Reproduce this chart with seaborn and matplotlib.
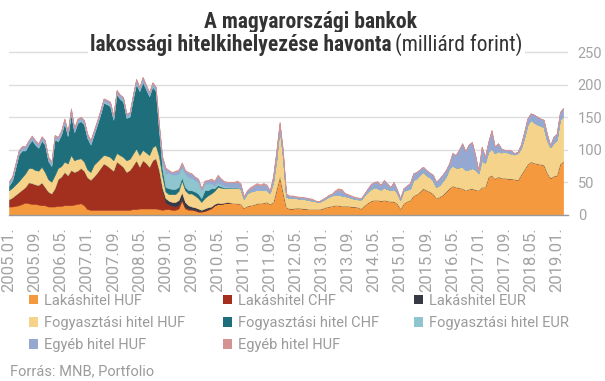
import matplotlib
matplotlib.use("Agg")
import matplotlib.pyplot as plt
from matplotlib import font_manager
from matplotlib.patches import Patch
import numpy as np
import pandas as pd
import seaborn as sns

# monthly data, 2005.01 - 2019.03 (milliárd forint), one row per year
months = pd.period_range("2005-01", "2019-03", freq="M")

lakas_huf = [
    13, 13, 14, 15, 17, 19, 18, 17, 17, 16, 15, 15,
    13, 13, 13, 14, 14, 15, 15, 15, 16, 17, 18, 15,
    9, 8, 8, 8, 8, 8, 8, 8, 8, 8, 8, 8,
    8, 8, 9, 9, 10, 10, 10, 10, 10, 10, 9, 8,
    9, 9, 8, 8, 10, 22, 10, 8, 8, 7, 5, 5,
    6, 8, 10, 15, 17, 17, 18, 19, 19, 18, 18, 17,
    11, 14, 15, 16, 18, 18, 19, 20, 17, 20, 40, 59,
    35, 12, 10, 10, 11, 11, 10, 10, 9, 9, 9, 9,
    10, 12, 13, 14, 15, 15, 14, 14, 14, 13, 13, 12,
    10, 15, 19, 22, 23, 23, 22, 23, 22, 21, 21, 18,
    10, 18, 21, 23, 30, 32, 36, 41, 38, 36, 33, 26,
    28, 31, 36, 41, 45, 43, 42, 41, 38, 40, 41, 39,
    38, 43, 43, 59, 61, 56, 59, 57, 57, 56, 56, 55,
    54, 62, 70, 78, 82, 80, 79, 78, 77, 65, 57, 60,
    61, 79, 82,
]
lakas_chf = [
    11, 14, 17, 20, 22, 24, 32, 32, 30, 30, 35, 28,
    23, 20, 28, 41, 45, 51, 46, 54, 50, 51, 54, 53,
    49, 46, 51, 57, 64, 71, 68, 64, 60, 74, 70, 66,
    58, 61, 67, 75, 64, 74, 70, 64, 74, 77, 58, 30,
    10, 7, 6, 5, 5, 2, 2, 2, 1, 1, 1, 1,
    1, 1, 1, 0, 0, 0, 0, 0, 0, 0, 0, 0,
    0, 0, 0, 0, 0, 0, 0, 0, 0, 0, 0, 0,
    0, 0, 0, 0, 0, 0, 0, 0, 0, 0, 0, 0,
    0, 0, 0, 0, 0, 0, 0, 0, 0, 0, 0, 0,
    0, 0, 0, 0, 0, 0, 0, 0, 0, 0, 0, 0,
    0, 0, 0, 0, 0, 0, 0, 0, 0, 0, 0, 0,
    0, 0, 0, 0, 0, 0, 0, 0, 0, 0, 0, 0,
    0, 0, 0, 0, 0, 0, 0, 0, 0, 0, 0, 0,
    0, 0, 0, 0, 0, 0, 0, 0, 0, 0, 0, 0,
    0, 0, 0,
]
lakas_eur = [
    0, 0, 0, 0, 0, 0, 0, 0, 0, 0, 0, 0,
    0, 0, 0, 0, 0, 0, 0, 0, 0, 0, 0, 0,
    0, 0, 0, 0, 0, 0, 0, 0, 0, 0, 0, 0,
    0, 0, 0, 0, 0, 0, 0, 0, 0, 0, 2, 4,
    7, 6, 6, 7, 8, 11, 8, 5, 4, 4, 4, 2,
    3, 3, 2, 2, 2, 1, 1, 1, 0, 0, 0, 0,
    0, 0, 0, 0, 0, 0, 0, 0, 0, 0, 0, 0,
    0, 0, 0, 0, 0, 0, 0, 0, 0, 0, 0, 0,
    0, 0, 0, 0, 0, 0, 0, 0, 0, 0, 0, 0,
    0, 0, 0, 0, 0, 0, 0, 0, 0, 0, 0, 0,
    0, 0, 0, 0, 0, 0, 0, 0, 0, 0, 0, 0,
    0, 0, 0, 0, 0, 0, 0, 0, 0, 0, 0, 0,
    0, 0, 0, 0, 0, 0, 0, 0, 0, 0, 0, 0,
    0, 0, 0, 0, 0, 0, 0, 0, 0, 0, 0, 0,
    0, 0, 0,
]
fogy_huf = [
    14, 15, 16, 17, 19, 21, 22, 23, 22, 22, 24, 23,
    19, 18, 20, 17, 16, 16, 18, 23, 18, 18, 15, 14,
    12, 12, 18, 17, 15, 13, 15, 17, 16, 13, 14, 15,
    18, 17, 18, 18, 18, 16, 16, 18, 20, 20, 21, 18,
    10, 10, 12, 12, 14, 18, 18, 18, 20, 18, 16, 12,
    16, 18, 20, 20, 24, 24, 22, 21, 23, 24, 24, 23,
    14, 19, 21, 21, 21, 20, 20, 18, 17, 30, 45, 75,
    55, 16, 16, 16, 15, 14, 15, 14, 14, 13, 12, 11,
    12, 13, 15, 16, 16, 16, 16, 15, 14, 13, 12, 12,
    14, 15, 16, 18, 19, 18, 17, 19, 18, 17, 19, 16,
    13, 19, 18, 17, 24, 24, 26, 25, 23, 22, 20, 17,
    18, 21, 23, 30, 31, 30, 31, 33, 31, 30, 31, 31,
    26, 41, 37, 38, 41, 39, 39, 39, 40, 40, 38, 38,
    41, 40, 48, 60, 64, 62, 60, 59, 58, 50, 47, 50,
    54, 67, 69,
]
fogy_chf = [
    7, 11, 26, 41, 41, 35, 36, 43, 39, 35, 40, 42,
    28, 24, 55, 41, 48, 59, 42, 63, 43, 55, 57, 57,
    48, 42, 46, 56, 67, 80, 79, 78, 62, 90, 86, 85,
    65, 65, 84, 99, 98, 104, 97, 90, 93, 83, 40, 12,
    7, 9, 8, 8, 6, 5, 5, 5, 5, 6, 7, 6,
    12, 8, 8, 4, 3, 2, 1, 1, 0, 0, 0, 0,
    0, 0, 0, 0, 0, 0, 0, 0, 0, 0, 0, 0,
    0, 0, 0, 0, 0, 0, 0, 0, 0, 0, 0, 0,
    0, 0, 0, 0, 0, 0, 0, 0, 0, 0, 0, 0,
    0, 0, 0, 0, 0, 0, 0, 0, 0, 0, 0, 0,
    0, 0, 0, 0, 0, 0, 0, 0, 0, 0, 0, 0,
    0, 0, 0, 0, 0, 0, 0, 0, 0, 0, 0, 0,
    0, 0, 0, 0, 0, 0, 0, 0, 0, 0, 0, 0,
    0, 0, 0, 0, 0, 0, 0, 0, 0, 0, 0, 0,
    0, 0, 0,
]
fogy_eur = [
    2, 2, 2, 2, 2, 2, 2, 2, 2, 2, 2, 2,
    2, 2, 2, 2, 2, 2, 2, 2, 2, 2, 2, 2,
    2, 2, 2, 2, 2, 2, 2, 2, 2, 2, 2, 2,
    2, 2, 2, 2, 2, 2, 2, 2, 2, 2, 4, 10,
    20, 24, 22, 22, 20, 15, 20, 20, 19, 17, 18, 12,
    10, 10, 8, 4, 4, 3, 2, 2, 1, 1, 1, 1,
    0, 0, 0, 0, 0, 0, 0, 0, 0, 0, 0, 0,
    0, 0, 0, 0, 0, 0, 0, 0, 0, 0, 0, 0,
    0, 0, 0, 0, 0, 0, 0, 0, 0, 0, 0, 0,
    0, 0, 0, 0, 0, 0, 0, 0, 0, 0, 0, 0,
    0, 0, 0, 0, 0, 0, 0, 0, 0, 0, 0, 0,
    0, 0, 0, 0, 0, 0, 0, 0, 0, 0, 0, 0,
    0, 0, 0, 0, 0, 0, 0, 0, 0, 0, 0, 0,
    0, 0, 0, 0, 0, 0, 0, 0, 0, 0, 0, 0,
    0, 0, 0,
]
egyeb_huf = [
    4, 4, 4, 4, 4, 4, 4, 4, 4, 4, 4, 4,
    4, 4, 4, 4, 4, 4, 4, 6, 4, 4, 4, 4,
    4, 4, 4, 4, 4, 4, 4, 4, 4, 4, 4, 4,
    4, 4, 4, 5, 4, 5, 4, 4, 4, 4, 4, 6,
    8, 3, 3, 5, 5, 6, 5, 7, 6, 5, 4, 2,
    4, 5, 5, 6, 10, 8, 7, 6, 7, 7, 8, 6,
    3, 4, 5, 7, 8, 7, 8, 7, 3, 8, 12, 7,
    8, 4, 3, 3, 2, 2, 2, 2, 2, 2, 1, 1,
    2, 2, 2, 2, 5, 7, 8, 4, 3, 3, 2, 2,
    2, 3, 5, 7, 8, 10, 7, 11, 8, 5, 10, 5,
    3, 4, 6, 9, 10, 10, 8, 8, 8, 7, 9, 8,
    10, 10, 10, 8, 19, 19, 27, 36, 29, 38, 40, 22,
    4, 21, 9, 15, 28, 10, 12, 6, 3, 4, 5, 2,
    2, 6, 9, 10, 10, 12, 12, 11, 11, 10, 3, 10,
    10, 12, 13,
]
egyeb_huf_2 = [
    1, 1, 1, 1, 1, 1, 1, 1, 1, 1, 1, 1,
    1, 1, 1, 1, 1, 1, 1, 1, 1, 1, 1, 1,
    1, 1, 1, 1, 1, 1, 1, 1, 1, 1, 1, 1,
    1, 1, 1, 1, 1, 1, 1, 1, 1, 1, 1, 2,
    2, 1, 1, 1, 2, 2, 1, 1, 1, 1, 1, 1,
    1, 1, 2, 2, 2, 1, 1, 1, 1, 1, 2, 2,
    1, 1, 2, 2, 2, 2, 2, 2, 1, 2, 3, 2,
    2, 1, 1, 1, 1, 1, 1, 1, 1, 1, 0, 0,
    0, 0, 1, 1, 2, 3, 2, 1, 1, 1, 1, 1,
    0, 0, 1, 1, 1, 1, 0, 1, 0, 0, 1, 0,
    0, 0, 0, 0, 0, 0, 0, 0, 0, 0, 0, 0,
    0, 0, 0, 0, 0, 0, 0, 0, 0, 0, 0, 0,
    0, 0, 0, 0, 0, 0, 0, 0, 0, 0, 0, 0,
    0, 0, 0, 0, 0, 0, 0, 0, 0, 0, 0, 0,
    0, 0, 0,
]

series_names = ["Lakáshitel HUF", "Lakáshitel CHF", "Lakáshitel EUR",
                "Fogyasztási hitel HUF", "Fogyasztási hitel CHF", "Fogyasztási hitel EUR",
                "Egyéb hitel HUF", "Egyéb hitel HUF"]
series_colors = ["#F5993F", "#A3301F", "#363A44",
                 "#F5D38A", "#1E6E7B", "#8EC5CF",
                 "#94A8D2", "#D49392"]

tick_labels = ["2005.01.", "2005.09.", "2006.05.", "2007.01.", "2007.09.", "2008.05.",
               "2009.01.", "2009.09.", "2010.05.", "2011.01.", "2011.09.", "2012.05.",
               "2013.01.", "2013.09.", "2014.05.", "2015.01.", "2015.09.", "2016.05.",
               "2017.01.", "2017.09.", "2018.05.", "2019.01."]

data = pd.DataFrame({
    "Lakáshitel HUF": lakas_huf,
    "Lakáshitel CHF": lakas_chf,
    "Lakáshitel EUR": lakas_eur,
    "Fogyasztási hitel HUF": fogy_huf,
    "Fogyasztási hitel CHF": fogy_chf,
    "Fogyasztási hitel EUR": fogy_eur,
    "Egyéb hitel HUF": egyeb_huf,
    "Egyéb hitel HUF 2": egyeb_huf_2,
}, index=months)
x = np.arange(len(data))

sns.set_theme(style="white")
plt.rcParams["font.family"] = ["Roboto", "DejaVu Sans"]

installed = {f.name for f in font_manager.fontManager.ttflist}
if "Roboto Condensed" in installed:
    title_font, title_size = "Roboto Condensed", 15.5
elif "Liberation Sans Narrow" in installed:
    title_font, title_size = "Liberation Sans Narrow", 15
else:
    title_font, title_size = "Roboto", 12

grey = "#9b9b9b"
palette = sns.color_palette(series_colors)

fig = plt.figure(figsize=(6.05, 3.81), dpi=100)
px_month = 3.26
ax = fig.add_axes([9 / 605, (381 - 215) / 381, 171.5 * px_month / 605, 252 * 0.652 / 381])

polys = ax.stackplot(x, data.T.values, colors=palette, linewidth=0, zorder=2)
for p, c in zip(polys, palette):
    p.set_edgecolor(c)
    p.set_linewidth(0.4)

ax.set_xlim(0, 171.5)
ax.set_ylim(0, 252)
ax.grid(axis="y", color="#dddddd", linewidth=1)
ax.grid(axis="x", visible=False)
ax.set_axisbelow(True)
sns.despine(ax=ax, left=True, right=True, top=True)
ax.spines["bottom"].set_color("#999999")
ax.spines["bottom"].set_linewidth(1)

ax.yaxis.tick_right()
ax.set_yticks([0, 50, 100, 150, 200, 250])
ax.tick_params(axis="y", length=0, pad=7, labelsize=10.5, labelcolor="#a3a3a3")
ax.set_xticks(x[::8])
ax.set_xticklabels(tick_labels, rotation=90, va="top", ha="center")
ax.tick_params(axis="x", length=0, pad=9, labelsize=12, labelcolor="#a3a3a3")

# title
fig.text(311 / 605, 1 - 28 / 381, "A magyarországi bankok", ha="center", va="baseline",
         fontsize=title_size, fontweight="bold", color="#333333", family=title_font)
bb = dict(facecolor="white", edgecolor="none", pad=1.5)
fig.text(392 / 605, 1 - 51 / 381, "lakossági hitelkihelyezése havonta", ha="right", va="baseline",
         fontsize=title_size, fontweight="bold", color="#333333", family=title_font, bbox=bb)
fig.text(395 / 605, 1 - 51 / 381, "(milliárd forint)", ha="left", va="baseline",
         fontsize=title_size, color="#333333", family=title_font, bbox=bb)

# legend, three columns laid out row by row
handles = [Patch(facecolor=c, edgecolor="none") for c in palette]
columns = [[0, 3, 6], [1, 4, 7], [2, 5]]
col_x = [29, 223, 414]
for idx, cx in zip(columns, col_x):
    leg = fig.legend([handles[i] for i in idx], [series_names[i] for i in idx],
                     loc="upper left", bbox_to_anchor=(cx / 605, 1 - 294 / 381),
                     frameon=False, fontsize=10.5, handlelength=0.6, handleheight=0.6,
                     handletextpad=0.4, labelspacing=0.55, borderpad=0, borderaxespad=0)
    for t in leg.get_texts():
        t.set_color(grey)

fig.text(10 / 605, 1 - 371 / 381, "Forrás: MNB, Portfolio", ha="left", va="center",
         fontsize=10.5, color=grey)

fig.savefig("out.png", dpi=100)
